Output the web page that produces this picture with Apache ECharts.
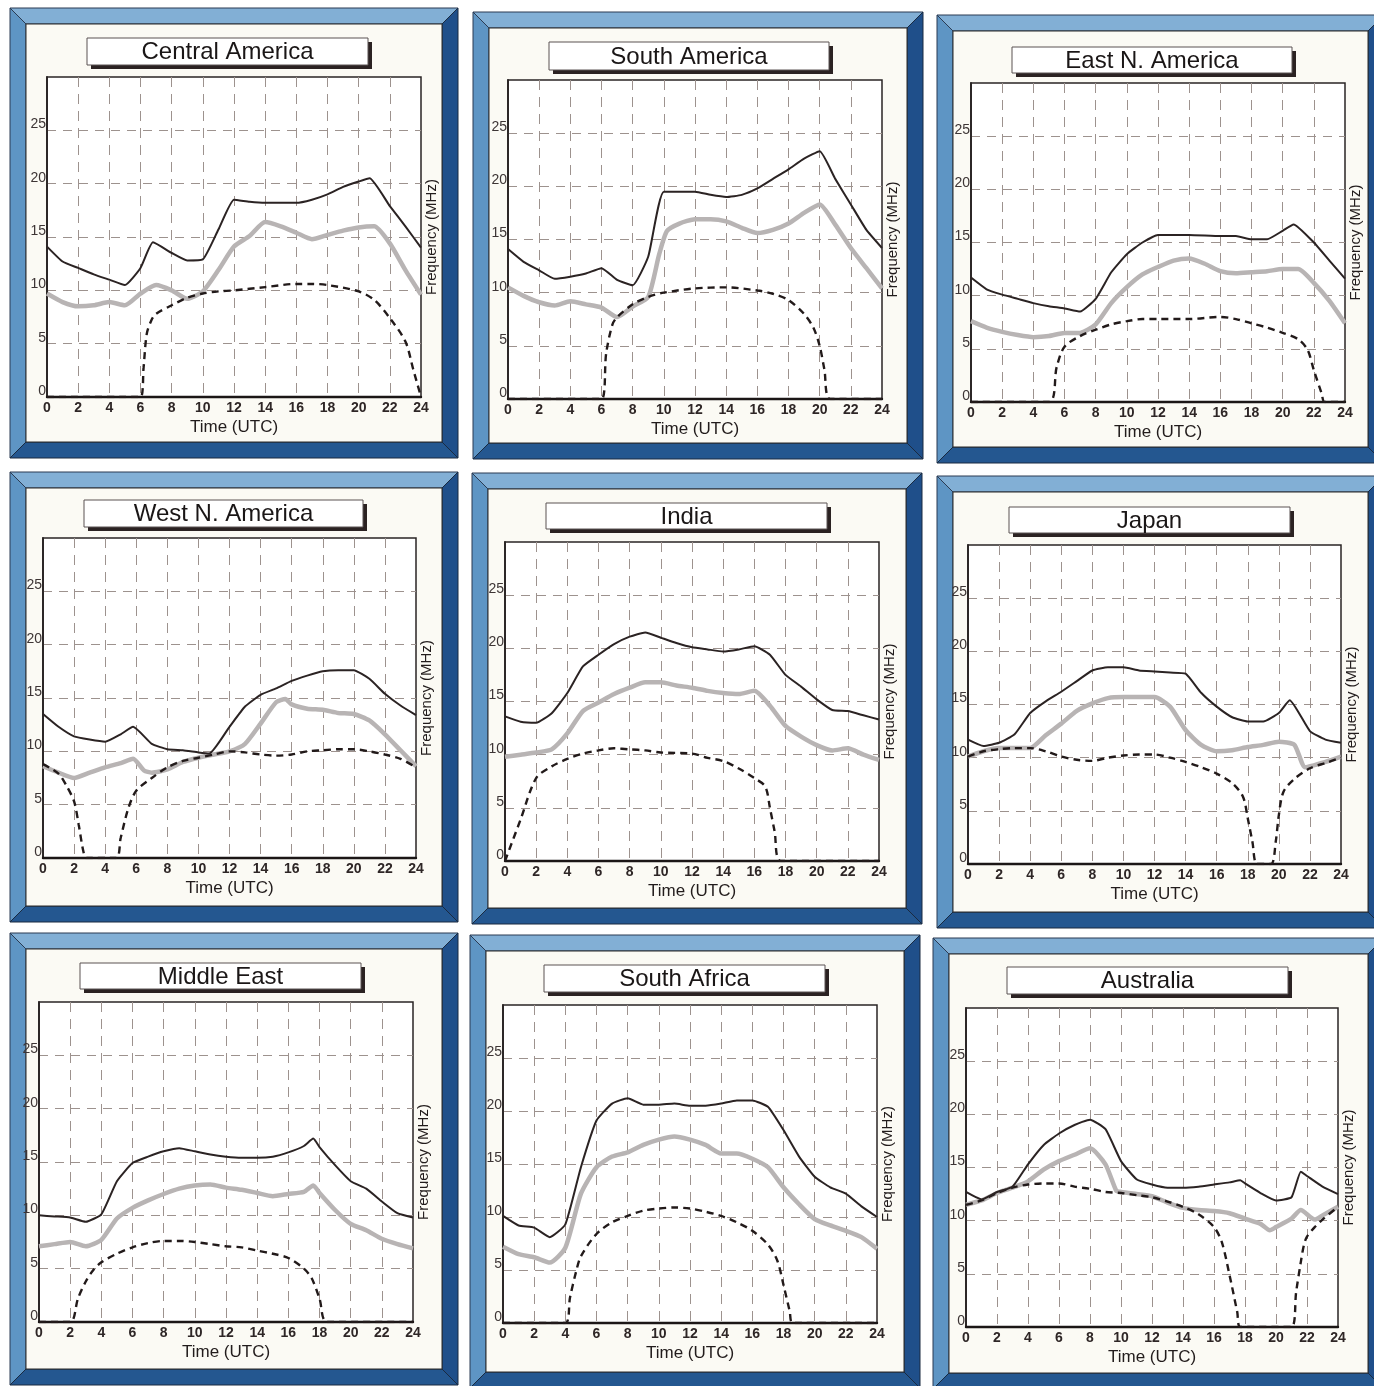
<!DOCTYPE html>
<html>
<head>
<meta charset="utf-8">
<title>Propagation forecast by region</title>
<script src="https://cdn.jsdelivr.net/npm/echarts@6/dist/echarts.min.js"></script>
<style>
  html, body { margin: 0; padding: 0; background: #fff; }
  #chart { width: 1374px; height: 1386px; }
</style>
</head>
<body>
<div id="chart"></div>
<script>
// region names, one panel each (row by row)
const regions = ['Central America', 'South America', 'East N. America',
  'West N. America', 'India', 'Japan',
  'Middle East', 'South Africa', 'Australia'];

// tick labels
const timeTicks = [0, 2, 4, 6, 8, 10, 12, 14, 16, 18, 20, 22, 24];
const freqTicks = [0, 5, 10, 15, 20, 25];

// [hour UTC, MHz] — dark upper line, grey middle line, dashed lower line
const mufCentral = [[0,14.1],[1,12.7],[2,12.1],[3,11.5],[4,11.0],[5,10.5],[6,12.1],[6.8,14.5],[8,13.5],[9,12.8],[10,12.9],[11,15.7],[12,18.5],[13,18.3],[14,18.2],[16,18.2],[17,18.5],[18,19.0],[19,19.7],[20,20.2],[20.7,20.5],[22,17.9],[23,16.0],[24,14.0]];
const fotCentral = [[0,9.7],[1,8.9],[2,8.5],[3,8.6],[4,8.9],[5,8.6],[6,9.7],[7,10.5],[8,10.0],[9,9.2],[10,9.9],[11,11.9],[12,14.1],[13,15.1],[14,16.4],[15,16.0],[16,15.4],[17,14.8],[18,15.2],[19,15.6],[20,15.9],[21,16.0],[22,14.4],[23,11.9],[24,9.6]];
const lufCentral = [[0,0],[6,0],[6.2,2.8],[6.4,5.9],[6.7,7.2],[7,7.8],[8,8.6],[9,9.3],[10,9.7],[11,9.9],[12,10.0],[14,10.3],[16,10.6],[17,10.6],[18,10.5],[20,9.9],[21,9.1],[22,7.4],[23,5.2],[23.5,2.6],[24,0]];

const mufSouthAm = [[0,14.1],[1,12.9],[2,12.1],[3,11.3],[4,11.5],[5,11.8],[6,12.3],[7,11.2],[8,10.7],[9,13.4],[10,19.5],[12,19.5],[13,19.2],[14,19.0],[15,19.2],[16,19.8],[17,20.7],[18,21.6],[19,22.6],[20,23.3],[21,20.7],[22,18.3],[23,15.9],[24,14.2]];
const fotSouthAm = [[0,10.5],[1,9.7],[2,9.1],[3,8.8],[4,9.2],[5,8.9],[6,8.6],[7,7.7],[8,8.7],[9,9.6],[9.7,13.6],[10.2,15.8],[11,16.5],[12,16.9],[13,16.9],[14,16.7],[15,16.1],[16,15.6],[17,15.9],[18,16.5],[19,17.5],[20,18.3],[21,16.4],[22,14.2],[23,12.3],[24,10.4]];
const lufSouthAm = [[0,0],[6,0],[6.3,4.3],[6.7,7.0],[7,7.7],[8,8.9],[9,9.6],[10,10.0],[12,10.4],[14,10.5],[16,10.2],[17,9.9],[18,9.3],[19,8.0],[19.6,6.7],[20,5.0],[20.3,2.8],[20.7,0],[24,0]];

const mufEastNA = [[0,11.7],[1,10.6],[2,10.1],[3,9.7],[4,9.3],[5,9.0],[6,8.8],[7,8.5],[8,9.7],[9,12.2],[10,13.9],[11,15.0],[12,15.7],[14,15.7],[16,15.6],[17,15.6],[18,15.3],[19,15.3],[20,16.1],[20.7,16.7],[22,15.0],[23,13.3],[24,11.6]];
const fotEastNA = [[0,7.6],[1,7.0],[2,6.6],[3,6.3],[4,6.1],[5,6.2],[6,6.5],[7,6.5],[8,7.3],[9,9.3],[10,10.8],[11,12.0],[12,12.7],[13,13.3],[14,13.5],[15,13.0],[16,12.3],[17,12.1],[18,12.2],[19,12.3],[20,12.5],[21,12.5],[22,11.2],[23,9.5],[24,7.4]];
const lufEastNA = [[0,0],[5,0],[5.5,3.3],[6,5.2],[7,6.2],[8,6.8],[9,7.3],[10,7.6],[11,7.8],[12,7.8],[14,7.8],[16,8.0],[17,7.8],[18,7.4],[19,7.0],[20,6.5],[21,5.9],[21.6,4.9],[22,3.0],[22.5,0.8],[22.7,0],[24,0]];

const mufWestNA = [[0,13.5],[1,12.3],[2,11.4],[3,11.1],[4,10.9],[5,11.6],[5.8,12.3],[7,10.7],[8,10.2],[9,10.1],[10,9.9],[10.7,9.8],[12,12.3],[13,14.2],[14,15.3],[15,15.9],[16,16.6],[17,17.1],[18,17.5],[19,17.6],[20,17.6],[21,16.8],[22,15.4],[23,14.3],[24,13.4]];
const fotWestNA = [[0,8.6],[1,8.0],[2,7.5],[3,8.0],[4,8.5],[5,8.9],[5.8,9.3],[6.5,8.2],[7,8.0],[8,8.3],[9,9.0],[10,9.4],[11,9.7],[12,10.0],[13,10.7],[14,12.6],[15,14.6],[15.6,14.9],[16,14.4],[17,14.0],[18,13.9],[19,13.6],[20,13.5],[21,12.9],[22,11.6],[23,10.1],[24,8.6]];
const lufWestNA = [[0,8.8],[1,7.9],[1.5,6.8],[2,5.3],[2.3,3.1],[2.6,0.6],[2.8,0],[4.7,0],[5,1.9],[5.5,4.7],[6,6.3],[7,7.5],[8,8.5],[9,9.1],[10,9.4],[11,9.7],[12,10.0],[13,9.9],[14,9.7],[15,9.6],[16,9.7],[17,10.0],[18,10.1],[19,10.2],[20,10.2],[21,10.0],[22,9.7],[23,9.3],[24,8.5]];

const mufIndia = [[0,13.6],[1,13.1],[2,13.0],[3,13.9],[4,15.8],[5,18.3],[6,19.4],[7,20.4],[8,21.1],[9,21.5],[10,21.0],[11,20.5],[12,20.1],[13,19.9],[14,19.7],[15,19.9],[16,20.2],[17,19.4],[18,17.5],[19,16.4],[20,15.2],[21,14.2],[22,14.1],[23,13.7],[24,13.3]];
const fotIndia = [[0,9.8],[1,10.0],[2,10.2],[3,10.5],[4,12.0],[5,14.1],[6,14.9],[7,15.7],[8,16.3],[9,16.8],[10,16.8],[11,16.5],[12,16.3],[13,16.0],[14,15.8],[15,15.7],[16,16.0],[17,14.6],[18,12.7],[19,11.7],[20,10.9],[21,10.4],[22,10.6],[23,10.0],[24,9.5]];
const lufIndia = [[0,0],[1,3.9],[2,7.8],[3,8.9],[4,9.6],[5,10.1],[6,10.4],[7,10.6],[8,10.5],[9,10.4],[10,10.2],[12,10.1],[13,9.7],[14,9.4],[15,8.7],[16,7.8],[16.7,7.0],[17,5.0],[17.3,2.8],[17.7,0],[24,0]];

const mufJapan = [[0,11.7],[1,11.1],[2,11.4],[3,12.2],[4,14.2],[5,15.3],[6,16.2],[7,17.2],[8,18.2],[9,18.5],[10,18.5],[11,18.2],[12,18.1],[13,18.0],[14,17.9],[15,16.1],[16,14.8],[17,13.8],[18,13.4],[19,13.4],[20,14.2],[20.7,15.4],[22,12.5],[23,11.7],[24,11.4]];
const fotJapan = [[0,10.1],[1,10.6],[2,10.9],[3,10.9],[4,10.9],[5,12.1],[6,13.2],[7,14.4],[8,15.1],[9,15.6],[10,15.7],[11,15.7],[12,15.7],[13,14.8],[14,12.6],[15,11.2],[16,10.6],[17,10.7],[18,11.0],[19,11.2],[20,11.5],[21,11.2],[21.7,9.1],[23,9.6],[24,10.1]];
const lufJapan = [[0,10.1],[1,10.6],[2,10.8],[3,10.9],[4,10.9],[5,10.6],[6,10.1],[7,9.8],[8,9.7],[9,10.0],[10,10.2],[11,10.3],[12,10.3],[13,10.0],[14,9.6],[15,9.1],[16,8.5],[17,7.6],[17.7,6.3],[18,4.3],[18.3,2.1],[18.6,0],[19.5,0],[19.8,2.1],[20,4.6],[20.3,6.8],[21,8.0],[22,9.0],[23,9.5],[24,10.0]];

const mufMidEast = [[0,10.0],[1,9.9],[2,9.8],[3,9.4],[4,10.1],[5,13.2],[6,14.9],[7,15.5],[8,16.0],[9,16.3],[10,16.0],[11,15.7],[12,15.5],[13,15.4],[14,15.4],[15,15.5],[16,15.9],[17,16.5],[17.6,17.2],[18,16.4],[19,14.7],[20,13.2],[21,12.5],[22,11.3],[23,10.2],[24,9.8]];
const fotMidEast = [[0,7.1],[1,7.3],[2,7.5],[3,7.1],[4,7.7],[5,9.7],[6,10.7],[7,11.4],[8,12.0],[9,12.5],[10,12.8],[11,12.9],[12,12.6],[13,12.4],[14,12.1],[15,11.8],[16,12.0],[17,12.2],[17.6,12.8],[18,12.1],[19,10.5],[20,9.2],[21,8.6],[22,7.8],[23,7.3],[24,6.9]];
const lufMidEast = [[0,0],[2,0],[2.5,2.2],[3,3.8],[3.5,4.9],[4,5.6],[5,6.4],[6,7.0],[7,7.4],[8,7.6],[9,7.6],[10,7.5],[11,7.3],[12,7.1],[13,7.0],[14,6.7],[15,6.4],[16,6.0],[17,5.0],[17.5,4.1],[18,2.2],[18.5,0],[24,0]];

const mufSAfrica = [[0,10.1],[1,9.2],[2,9.0],[3,8.1],[4,9.3],[5,14.7],[6,19.1],[7,20.7],[8,21.2],[9,20.6],[10,20.6],[11,20.7],[12,20.5],[13,20.5],[14,20.7],[15,21.0],[16,21.0],[17,20.4],[18,18.2],[19,15.7],[20,13.8],[21,12.8],[22,12.2],[23,11.0],[24,10.0]];
const fotSAfrica = [[0,7.2],[1,6.5],[2,6.2],[3,5.7],[4,7.1],[5,12.2],[6,14.7],[7,15.7],[8,16.1],[9,16.8],[10,17.3],[11,17.6],[12,17.3],[13,16.8],[14,16.0],[15,16.0],[16,15.5],[17,14.7],[18,12.8],[19,11.2],[20,9.8],[21,9.2],[22,8.7],[23,8.1],[24,7.0]];
const lufSAfrica = [[0,0],[4,0],[4.3,2.4],[4.7,4.9],[5,6.3],[6,8.4],[7,9.5],[8,10.1],[9,10.6],[10,10.8],[11,10.9],[12,10.8],[13,10.5],[14,10.1],[15,9.5],[16,8.7],[17,7.4],[17.6,5.9],[18,3.6],[18.4,1.1],[18.6,0],[24,0]];

const mufAustralia = [[0,12.7],[1,12.0],[2,12.7],[3,13.2],[4,15.3],[5,17.1],[6,18.2],[7,19.0],[8,19.5],[9,18.6],[10,15.6],[11,13.9],[12,13.4],[13,13.1],[14,13.1],[15,13.2],[16,13.4],[17,13.6],[17.7,13.8],[18,13.5],[19,12.6],[20,11.9],[21,12.2],[21.6,14.6],[22,14.2],[23,13.2],[24,12.5]];
const fotAustralia = [[0,11.5],[1,11.9],[2,12.6],[3,13.1],[4,13.7],[5,14.8],[6,15.6],[7,16.2],[8,16.8],[9,15.3],[9.7,12.8],[10,12.7],[11,12.5],[12,12.3],[13,11.7],[14,11.2],[15,11.0],[16,10.9],[17,10.7],[18,10.2],[19,9.7],[19.6,9.1],[20,9.4],[21,10.2],[21.6,11.0],[22.5,10.1],[23,10.5],[24,11.3]];
const lufAustralia = [[0,11.5],[1,11.9],[2,12.6],[3,13.1],[4,13.4],[5,13.5],[6,13.5],[7,13.2],[8,13.0],[9,12.7],[10,12.6],[11,12.4],[12,12.2],[13,11.8],[14,11.3],[15,10.6],[16,9.4],[16.5,8.0],[17,4.9],[17.5,1.4],[17.7,0],[21,0],[21.3,3.3],[21.6,6.1],[21.8,7.7],[22,8.5],[22.5,9.4],[23,10.1],[24,11.3]];

const mufSeries = [mufCentral, mufSouthAm, mufEastNA, mufWestNA, mufIndia, mufJapan, mufMidEast, mufSAfrica, mufAustralia];
const fotSeries = [fotCentral, fotSouthAm, fotEastNA, fotWestNA, fotIndia, fotJapan, fotMidEast, fotSAfrica, fotAustralia];
const lufSeries = [lufCentral, lufSouthAm, lufEastNA, lufWestNA, lufIndia, lufJapan, lufMidEast, lufSAfrica, lufAustralia];

// page layout (pixels): outer frame [x0,y0,x1,y1], plot [l,t,r,b], title box [x,y,w,h]
const frameBoxes = [
  [10, 8, 458, 458], [473, 12, 923, 459], [937, 15, 1384, 463],
  [10, 472, 458, 922], [472, 473, 922, 924], [937, 476, 1384, 928],
  [10, 933, 458, 1385], [470, 935, 920, 1388], [933, 938, 1384, 1389]
];
const plotBoxes = [
  [47, 77, 421, 397], [508, 80, 882, 399], [971, 83, 1345, 402],
  [43, 538, 416, 858], [505, 542, 879, 861], [968, 545, 1341, 864],
  [39, 1002, 413, 1322], [503, 1005, 877, 1323], [966, 1008, 1338, 1327]
];
const titleBoxes = [
  [87, 38, 281, 27], [549, 42, 280, 28], [1012, 47, 280, 26],
  [84, 500, 279, 27], [546, 503, 281, 26], [1009, 507, 281, 26],
  [80, 963, 281, 26], [544, 965, 281, 27], [1007, 967, 281, 27]
];

const FONT = '"Liberation Sans", Arial, Helvetica, sans-serif';
const GRID_COLOR = '#9d928e';
const BEVEL = 16;

const chart = echarts.init(document.getElementById('chart'));

const grids = [], xAxes = [], yAxes = [], series = [], graphics = [];

regions.forEach((name, i) => {
  const [x0, y0, x1, y1] = frameBoxes[i];
  const t = BEVEL;

  // blue bevelled frame
  graphics.push(
    { type: 'polygon', z: -20, shape: { points: [[x0, y0], [x1, y0], [x1 - t, y0 + t], [x0 + t, y0 + t]] },
      style: { fill: '#82afd5', stroke: '#2b3b52', lineWidth: 1 } },
    { type: 'polygon', z: -20, shape: { points: [[x0, y0], [x0 + t, y0 + t], [x0 + t, y1 - t], [x0, y1]] },
      style: { fill: '#5e95c4', stroke: '#2b3b52', lineWidth: 1 } },
    { type: 'polygon', z: -20, shape: { points: [[x1, y0], [x1, y1], [x1 - t, y1 - t], [x1 - t, y0 + t]] },
      style: { fill: '#1f4f8a', stroke: '#1a2a40', lineWidth: 1 } },
    { type: 'polygon', z: -20, shape: { points: [[x0, y1], [x1, y1], [x1 - t, y1 - t], [x0 + t, y1 - t]] },
      style: { fill: '#245790', stroke: '#1a2a40', lineWidth: 1 } },
    { type: 'rect', z: -19, shape: { x: x0 + t, y: y0 + t, width: x1 - x0 - 2 * t, height: y1 - y0 - 2 * t },
      style: { fill: '#fbfaf4', stroke: '#2a2a2a', lineWidth: 1 } }
  );

  // title box with hard drop shadow
  const [tx, ty, tw, th] = titleBoxes[i];
  graphics.push(
    { type: 'rect', z: 1, shape: { x: tx + 4, y: ty + 4, width: tw, height: th }, style: { fill: '#2b2222' } },
    { type: 'rect', z: 2, shape: { x: tx, y: ty, width: tw, height: th }, style: { fill: '#ffffff', stroke: '#5a5252', lineWidth: 1 } },
    { type: 'text', z: 3, x: tx + tw / 2, y: ty + th / 2 + 1,
      style: { text: name, fill: '#1a1616', fontSize: 24, fontFamily: FONT, align: 'center', verticalAlign: 'middle' } }
  );

  const [gl, gt, gr, gb] = plotBoxes[i];
  grids.push({
    left: gl, top: gt, width: gr - gl, height: gb - gt,
    show: true, backgroundColor: '#ffffff', borderColor: '#2a2424', borderWidth: 1.5,
    containLabel: false, outerBoundsMode: 'none'
  });

  xAxes.push({
    type: 'value', gridIndex: i, min: 0, max: 24, interval: 2,
    axisLine: { show: true, onZero: false, lineStyle: { color: '#1b1616', width: 2.4 } },
    axisTick: { show: false },
    axisLabel: {
      margin: 4, color: '#2e2626', fontSize: 14, fontWeight: 'bold', fontFamily: FONT,
      formatter: v => (timeTicks.includes(v) ? String(v) : '')
    },
    splitLine: { show: true, showMinLine: false, showMaxLine: false, lineStyle: { color: GRID_COLOR, width: 1, type: [10, 7] } },
    name: 'Time (UTC)', nameLocation: 'middle', nameGap: 22,
    nameTextStyle: { fontSize: 17, color: '#221c1c', fontFamily: FONT }
  });

  // left axis carries the numbers
  yAxes.push({
    type: 'value', gridIndex: i, min: 0, max: 30, interval: 5,
    axisLine: { show: true, onZero: false, lineStyle: { color: '#2a2424', width: 1.5 } },
    axisTick: { show: false },
    axisLabel: {
      margin: 1, color: '#3d3535', fontSize: 14, fontFamily: FONT, verticalAlign: 'bottom', lineHeight: 12,
      formatter: v => (freqTicks.includes(v) ? String(v) : '')
    },
    splitLine: { show: true, showMinLine: false, showMaxLine: false, lineStyle: { color: GRID_COLOR, width: 1, type: [9, 7] } }
  });
  // right axis only for the name
  yAxes.push({
    type: 'value', gridIndex: i, position: 'right', min: 0, max: 30, interval: 5,
    axisLine: { show: true, lineStyle: { color: '#2a2424', width: 1.5 } },
    axisTick: { show: false }, axisLabel: { show: false }, splitLine: { show: false },
    name: 'Frequency (MHz)', nameLocation: 'middle', nameRotate: 90, nameGap: 3,
    nameTextStyle: { fontSize: 15, color: '#221c1c', fontFamily: FONT }
  });

  series.push(
    { type: 'line', xAxisIndex: i, yAxisIndex: 2 * i, data: fotSeries[i], symbol: 'none', smooth: 0.2, z: 2,
      lineStyle: { color: '#b8b4b4', width: 4.5 } },
    { type: 'line', xAxisIndex: i, yAxisIndex: 2 * i, data: lufSeries[i], symbol: 'none', smooth: 0.3, z: 3,
      lineStyle: { color: '#221a1a', width: 2.4, type: [7, 5] } },
    { type: 'line', xAxisIndex: i, yAxisIndex: 2 * i, data: mufSeries[i], symbol: 'none', smooth: 0.15, z: 4,
      lineStyle: { color: '#2b2323', width: 2 } }
  );
});

chart.setOption({
  animation: false,
  backgroundColor: '#ffffff',
  graphic: { elements: graphics },
  grid: grids,
  xAxis: xAxes,
  yAxis: yAxes,
  series: series
});
</script>
</body>
</html>
